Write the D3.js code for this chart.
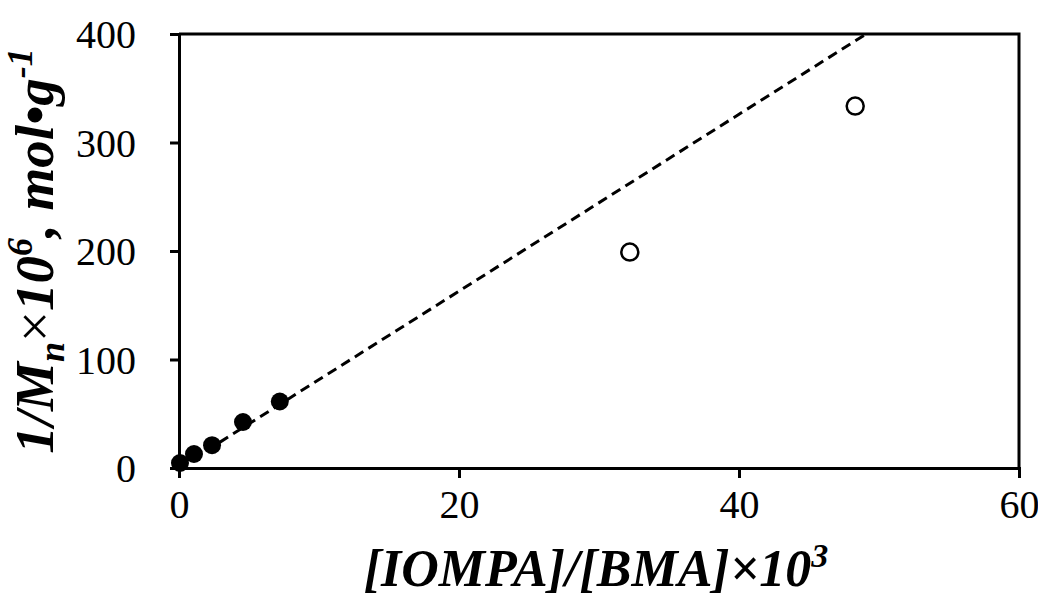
<!DOCTYPE html>
<html>
<head>
<meta charset="utf-8">
<script src="https://cdn.jsdelivr.net/npm/d3@7"></script>
<style>
  body { margin: 0; background: #fff; }
  svg { display: block; }
  text { font-family: "Liberation Serif", "Times New Roman", serif; fill: #000; }
</style>
</head>
<body>
<div id="chart"></div>
<script>
// filled points (fitted series)
const filledX = [0.07, 1.07, 2.36, 4.57, 7.2];
const filledY = [4.6, 12.9, 21, 42.4, 61.3];
// open points
const openX = [32.2, 48.3];
const openY = [199, 333.6];
// trend line through origin
const trendSlope = 8.15;
const trendIntercept = 0;

const xTicks = [0, 20, 40, 60];
const yTicks = [0, 100, 200, 300, 400];

const W = 1038, H = 597;
const margin = { top: 34, right: 19, bottom: 129, left: 179 };
const innerW = W - margin.left - margin.right;
const innerH = H - margin.top - margin.bottom;

const svg = d3.select("#chart").append("svg")
    .attr("width", W)
    .attr("height", H);

const g = svg.append("g")
    .attr("transform", `translate(${margin.left},${margin.top})`);

const x = d3.scaleLinear().domain([0, 60]).range([0, innerW]);
const y = d3.scaleLinear().domain([0, 400]).range([innerH, 0]);

// clip for the dashed line
svg.append("defs").append("clipPath").attr("id", "plotClip")
  .append("rect").attr("width", innerW).attr("height", innerH);

// dashed trend line
const xEnd = (400 - trendIntercept) / trendSlope;
g.append("line")
    .attr("clip-path", "url(#plotClip)")
    .attr("x1", x(0)).attr("y1", y(trendIntercept))
    .attr("x2", x(xEnd)).attr("y2", y(trendSlope * xEnd + trendIntercept))
    .attr("stroke", "#000")
    .attr("stroke-width", 3)
    .attr("stroke-dasharray", "10,6");

// frame (top + right)
g.append("path")
    .attr("d", `M0,0H${innerW}V${innerH}`)
    .attr("fill", "none")
    .attr("stroke", "#000")
    .attr("stroke-width", 3);

// axes
const xAxis = g.append("g")
    .attr("transform", `translate(0,${innerH})`)
    .call(d3.axisBottom(x).tickValues(xTicks).tickSize(10).tickPadding(8));
const yAxis = g.append("g")
    .call(d3.axisLeft(y).tickValues(yTicks).tickSize(9).tickPadding(34));

[xAxis, yAxis].forEach(a => {
    a.select(".domain").attr("stroke-width", 3);
    a.selectAll(".tick line").attr("stroke-width", 3);
    a.selectAll(".tick text")
        .style("font-family", "'Liberation Serif', 'Times New Roman', serif")
        .style("font-size", "40px")
        .attr("fill", "#000");
});
xAxis.selectAll(".tick text").attr("dy", "0.8em");
yAxis.selectAll(".tick text").attr("dy", "0.34em");

// points
g.selectAll("circle.filled")
    .data(filledX.map((d, i) => [d, filledY[i]]))
    .join("circle")
    .attr("class", "filled")
    .attr("cx", d => x(d[0]))
    .attr("cy", d => y(d[1]))
    .attr("r", 9)
    .attr("fill", "#000");

g.selectAll("circle.open")
    .data(openX.map((d, i) => [d, openY[i]]))
    .join("circle")
    .attr("class", "open")
    .attr("cx", d => x(d[0]))
    .attr("cy", d => y(d[1]))
    .attr("r", 8.5)
    .attr("fill", "#fff")
    .attr("stroke", "#000")
    .attr("stroke-width", 2.5);

// x axis title
const xt = svg.append("text")
    .attr("x", 596)
    .attr("y", 586)
    .attr("text-anchor", "middle")
    .style("font-size", "52px")
    .style("font-weight", "bold")
    .style("font-style", "italic");
xt.append("tspan").text("[IOMPA]/[BMA]×10");
xt.append("tspan").attr("dy", "-19").style("font-size", "34px").text("3");

// y axis title
const yt = svg.append("text")
    .attr("transform", `translate(53,251) rotate(-90)`)
    .attr("text-anchor", "middle")
    .style("font-size", "55px")
    .style("font-weight", "bold")
    .style("font-style", "italic");
yt.append("tspan").text("1/M");
yt.append("tspan").attr("dy", "11").style("font-size", "36px").text("n");
yt.append("tspan").attr("dy", "-11").style("font-weight", "normal").style("font-style", "normal").text("×");
yt.append("tspan").text("10");
yt.append("tspan").attr("dy", "-21").style("font-size", "36px").text("6");
yt.append("tspan").attr("dy", "21").text(", mol•g");
yt.append("tspan").attr("dy", "-21").style("font-size", "36px").text("-1");
</script>
</body>
</html>
